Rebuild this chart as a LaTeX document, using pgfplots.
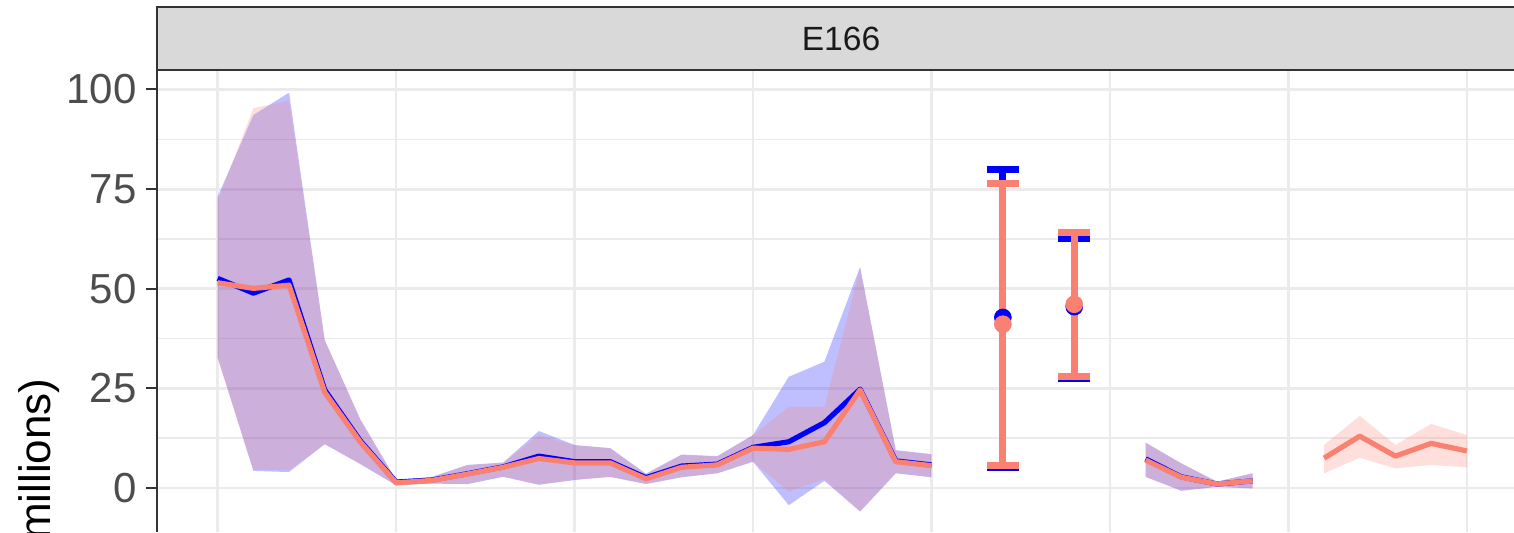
\documentclass[border=0pt]{standalone}
\usepackage{pgfplots}
\pgfplotsset{compat=1.18}
\usepackage{pgfplotstable}
\usepgfplotslibrary{fillbetween}
\usepackage{fontspec}
\setmainfont{Liberation Sans}

\definecolor{salmon}{HTML}{FA8072}
\definecolor{gridc}{HTML}{EBEBEB}
\definecolor{frame}{HTML}{333333}
\definecolor{ticktext}{HTML}{4D4D4D}
\definecolor{stripfill}{HTML}{D9D9D9}
\definecolor{striptext}{HTML}{1A1A1A}

% x = time step, b* = blue series, s* = salmon series (mean, lower, upper)
\pgfplotstableread{
x  bm   blo  bhi  sm   slo  shi
0  52.6 32.8 73.1 51.5 32.5 72.0
1  48.9 4.3  93.6 50.1 4.5  95.3
2  52.2 4.0  99.2 50.9 4.5  97.2
3  24.6 11.0 37.1 24.0 11.0 37.0
4  11.8 6.0  17.2 11.5 6.0  17.0
5  1.5  0.7  2.0  1.3  0.7  2.0
6  2.0  1.1  2.8  1.9  1.1  2.7
7  3.6  1.0  5.8  3.5  1.0  5.7
8  5.3  2.8  6.4  5.2  2.9  6.3
9  8.0  0.8  14.3 7.4  0.9  13.3
10 6.6  2.0  10.8 6.3  2.1  10.7
11 6.6  2.8  10.0 6.3  2.8  10.0
12 2.6  1.0  3.6  2.3  1.0  3.5
13 5.5  2.7  8.4  5.2  2.7  8.3
14 6.0  3.7  8.0  5.8  3.7  7.9
15 10.2 6.6  13.3 10.0 6.6  13.2
16 11.6 -4.3 27.9 9.7  -0.9 20.4
17 16.4 1.8  31.7 11.6 2.2  20.4
18 24.8 -5.9 55.5 24.6 -5.9 55.2
19 6.8  3.7  9.5  6.6  3.7  9.4
20 5.8  2.7  8.5  5.6  2.7  8.4
}\segA

\pgfplotstableread{
x  bm   blo  bhi  sm   slo  shi
26 7.3  2.8  11.4 7.0  2.8  11.3
27 2.8  -0.7 6.2  2.7  -0.7 6.1
28 1.0  0.3  1.6  1.0  0.3  1.6
29 1.8  -0.1 3.7  1.8  -0.1 3.7
}\segB

\pgfplotstableread{
x  sm   slo  shi
31 7.5  3.7  10.8
32 13.0 7.6  18.1
33 8.0  4.9  10.8
34 11.2 5.8  16.1
35 9.3  5.2  13.3
}\segC

\pgfplotstableread{
x  bm   bp   bn   sm   sp   sn
22 42.8 37.2 37.7 41.1 35.4 35.5
24 45.5 17.2 18.0 46.1 18.0 18.2
}\errs

\begin{document}
\begin{tikzpicture}
\begin{axis}[
    at={(78.5pt,0pt)}, anchor=south west,
    scale only axis, width=685.25pt, height=231pt,
    xmin=-1.7, xmax=36.7, ymin=-11.04, ymax=104.89,
    xtick={0,10,20,30}, minor xtick={5,15,25,35},
    ytick={0,25,50,75,100}, minor ytick={12.5,37.5,62.5,87.5},
    xticklabels={},
    grid=both,
    major grid style={gridc, line width=1.4pt},
    minor grid style={gridc, line width=0.75pt},
    separate axis lines,
    x axis line style={draw=none},
    y axis line style={frame, line width=1pt},
    tick align=outside, ytick pos=left,
    major tick length=5.5pt, minor tick length=0pt,
    xtick style={draw=none},
    ytick style={frame, line width=1pt},
    yticklabel style={font=\fontsize{21}{24}\selectfont, text=ticktext, anchor=east, inner sep=0pt, xshift=-4.5pt},
    /pgf/number format/assume math mode=true,
    line join=round,
]
% blue ribbon + line
\addplot[draw=none, name path=bhiA] table[x=x, y=bhi] {\segA};
\addplot[draw=none, name path=bloA] table[x=x, y=blo] {\segA};
\addplot[fill=blue, fill opacity=0.25, draw=none] fill between[of=bhiA and bloA];
\addplot[draw=none, name path=bhiB] table[x=x, y=bhi] {\segB};
\addplot[draw=none, name path=bloB] table[x=x, y=blo] {\segB};
\addplot[fill=blue, fill opacity=0.25, draw=none] fill between[of=bhiB and bloB];
\addplot[blue, line width=2.6pt, mark=none] table[x=x, y=bm] {\segA};
\addplot[blue, line width=2.6pt, mark=none] table[x=x, y=bm] {\segB};
% salmon ribbon + line
\addplot[draw=none, name path=shiA] table[x=x, y=shi] {\segA};
\addplot[draw=none, name path=sloA] table[x=x, y=slo] {\segA};
\addplot[fill=salmon, fill opacity=0.25, draw=none] fill between[of=shiA and sloA];
\addplot[draw=none, name path=shiB] table[x=x, y=shi] {\segB};
\addplot[draw=none, name path=sloB] table[x=x, y=slo] {\segB};
\addplot[fill=salmon, fill opacity=0.25, draw=none] fill between[of=shiB and sloB];
\addplot[draw=none, name path=shiC] table[x=x, y=shi] {\segC};
\addplot[draw=none, name path=sloC] table[x=x, y=slo] {\segC};
\addplot[fill=salmon, fill opacity=0.25, draw=none] fill between[of=shiC and sloC];
\addplot[salmon, line width=2.6pt, mark=none] table[x=x, y=sm] {\segA};
\addplot[salmon, line width=2.6pt, mark=none] table[x=x, y=sm] {\segB};
\addplot[salmon, line width=2.6pt, mark=none] table[x=x, y=sm] {\segC};
% error bars
\addplot[blue, only marks, mark=*, mark size=4.2pt,
    error bars/.cd, y dir=both, y explicit,
    error bar style={blue, line width=3.4pt},
    error mark options={blue, rotate=90, mark size=7.9pt, line width=3.4pt}]
    table[x=x, y=bm, y error plus=bp, y error minus=bn] {\errs};
\addplot[salmon, only marks, mark=*, mark size=4.2pt,
    error bars/.cd, y dir=both, y explicit,
    error bar style={salmon, line width=3.4pt},
    error mark options={salmon, rotate=90, mark size=7.9pt, line width=3.4pt}]
    table[x=x, y=sm, y error plus=sp, y error minus=sn] {\errs};
\end{axis}
% facet strip
\draw[frame, fill=stripfill, line width=1pt] (78.5pt,231pt) rectangle (763.75pt,262.35pt);
\node[text=striptext, font=\fontsize{16.8}{20}\selectfont] at (420.5pt,246.7pt) {E166};
% y axis title (cut off by the crop)
\node[rotate=90, anchor=base east, inner sep=0pt, font=\fontsize{22}{26}\selectfont] at (25pt,77pt) {(millions)};
\pgfresetboundingbox
\path[use as bounding box] (0,0) rectangle (757pt,266pt);
\end{tikzpicture}
\end{document}
